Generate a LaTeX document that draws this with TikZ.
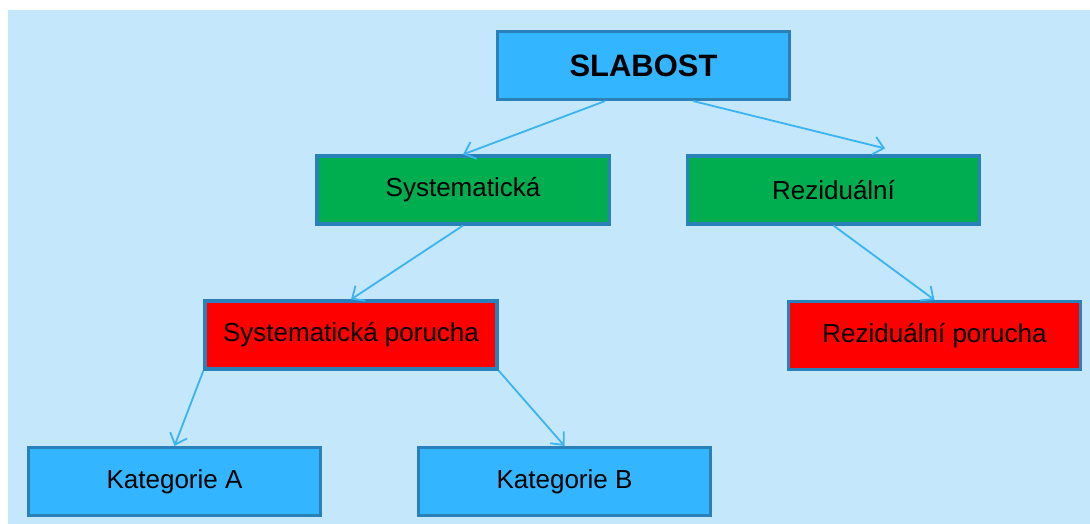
\documentclass[tikz,border=0pt]{standalone}
\usepackage{fontspec}
\setmainfont{Liberation Sans}
\usetikzlibrary{arrows.meta}

\definecolor{bgblue}{HTML}{C5E7FC}
\definecolor{boxblue}{HTML}{33B6FF}
\definecolor{boxgreen}{HTML}{00AD4F}
\definecolor{boxred}{HTML}{FF0000}
\definecolor{edgeblue}{HTML}{2A80B9}
\definecolor{arrowblue}{HTML}{3BB4F2}

\tikzset{
  box/.style={draw=edgeblue, line width=2.2pt, minimum width=7.3cm, minimum height=1.7cm,
    inner sep=0pt, font=\fontsize{18.5}{21}\selectfont},
  link/.style={arrowblue, line width=1.3pt, -{Straight Barb[length=2.5mm, width=4.5mm]}}
}

\begin{document}
\begin{tikzpicture}[x=0.025cm, y=-0.025cm]
  \useasboundingbox[fill=white] (0,0) rectangle (1090,524);
  \fill[bgblue] (8,10) rectangle (1090,524); % background

  % Top level
  \node[box, fill=boxblue, font=\fontsize{22}{26}\selectfont\bfseries] (slabost) at (643.5,65.5) {SLABOST};

  % Second level
  \node[box, fill=boxgreen] (syst) at (463,190) {Systematická};
  \node[box, fill=boxgreen] (rezid) at (833.5,190) {Reziduální};

  % Third level
  \node[box, fill=boxred] (sporucha) at (351,335) {Systematická porucha};
  \node[box, fill=boxred] (rporucha) at (934.5,335.5) {Reziduální porucha};

  % Categories
  \node[box, fill=boxblue] (kata) at (174.5,481.5) {Kategorie A};
  \node[box, fill=boxblue] (katb) at (564.5,481.5) {Kategorie B};

  % Connectors
  \draw[link] ([xshift=-0.96cm]slabost.south) -- (syst.north);
  \draw[link] ([xshift=1.24cm]slabost.south) -- ([xshift=1.29cm, yshift=0.15cm]rezid.north);
  \draw[link] (syst.south) -- (sporucha.north);
  \draw[link] (rezid.south) -- (rporucha.north);
  \draw[link] (sporucha.south west) -- (kata.north);
  \draw[link] (sporucha.south east) -- (katb.north);
\end{tikzpicture}
\end{document}
